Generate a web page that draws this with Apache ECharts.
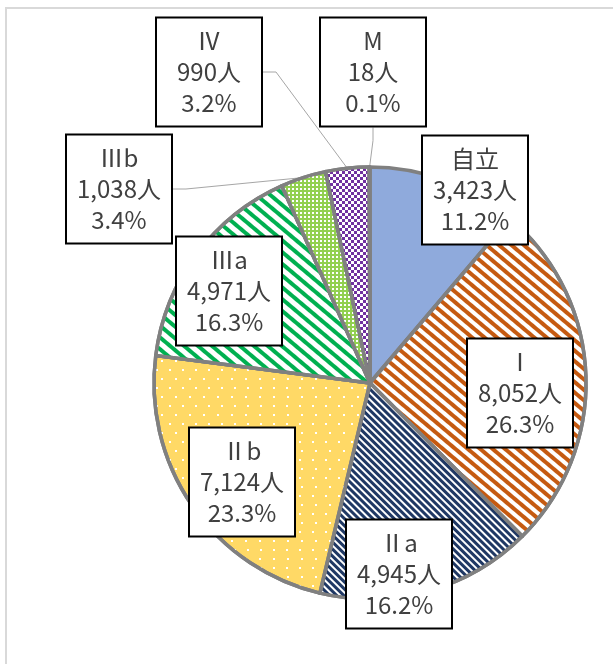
<!DOCTYPE html>
<html>
<head>
<meta charset="utf-8">
<script src="https://cdn.jsdelivr.net/npm/echarts@6/dist/echarts.min.js"></script>
<style>
html,body{margin:0;padding:0;background:#fff;}
#container{width:613px;height:664px;}
</style>
</head>
<body>
<div id="container"></div>
<script>
// 区分ごとの人数
var names = ['自立', 'Ⅰ', 'Ⅱa', 'Ⅱb', 'Ⅲa', 'Ⅲb', 'Ⅳ', 'M'];
var values = [3423, 8052, 4945, 7124, 4971, 1038, 990, 18];

// 塗り（模様）
var fills = ['#8faadc', '#ffffff', '#ffffff', '#ffd966', '#ffffff', '#92d050', '#ffffff', '#a5a5a5'];
var decals = [
    null,
    {color: '#c55a11', dashArrayX: [1, 0], dashArrayY: [3.5, 3.5], rotation: 0.7},
    {color: '#1f3864', dashArrayX: [1, 0], dashArrayY: [2.4, 1.6], rotation: 0.78},
    {color: '#ffffff', dashArrayX: [[2, 11], [0, 6.5, 2, 4.5]], dashArrayY: [2, 6.5]},
    {color: '#00b050', dashArrayX: [1, 0], dashArrayY: [4, 4.3], rotation: 0.7},
    {color: '#ffffff', dashArrayX: [2, 2], dashArrayY: [2, 2]},
    {color: '#7030a0', dashArrayX: [[3, 3], [0, 3, 3, 0]], dashArrayY: [3, 0]},
    null
];
// ラベルの位置（箱の中心）
var labelPos = [[475, 190], [520, 393], [399, 574], [242, 482], [229, 291], [119, 189], [209, 72], [373, 72]];
var outsideLabel = [false, false, false, false, false, true, true, true];

var chart = echarts.init(document.getElementById('container'), null, {renderer: 'canvas'});

var pieData = [];
for (var i = 0; i < names.length; i++) {
    var d = {
        name: names[i],
        value: values[i],
        itemStyle: {color: fills[i]},
        label: {position: outsideLabel[i] ? 'outside' : 'inside'},
        labelLine: {show: outsideLabel[i]}
    };
    if (decals[i]) {
        d.itemStyle.decal = Object.assign({symbol: 'rect', symbolSize: 1, symbolKeepAspect: false}, decals[i]);
    }
    pieData.push(d);
}

var option = {
    backgroundColor: '#ffffff',
    animation: false,
    graphic: [{
        type: 'rect',
        shape: {x: 6, y: 8, width: 700, height: 700},
        style: {fill: 'none', stroke: '#d9d9d9', lineWidth: 2},
        silent: true
    }],
    series: [{
        type: 'pie',
        center: [370, 383],
        radius: 216,
        startAngle: 90,
        clockwise: true,
        percentPrecision: 1,
        avoidLabelOverlap: false,
        emphasis: {disabled: true},
        itemStyle: {borderColor: '#808080', borderWidth: 3.5},
        label: {
            show: true,
            formatter: function (p) {
                return p.name + '\n' + echarts.format.addCommas(p.value) + '人\n' + p.percent.toFixed(1) + '%';
            },
            fontFamily: "'Noto Sans CJK JP', sans-serif",
            fontSize: 24,
            lineHeight: 31,
            color: '#404040',
            align: 'center',
            width: 102,
            padding: [7, 1, 7, 1],
            backgroundColor: '#ffffff',
            borderColor: '#000000',
            borderWidth: 2
        },
        labelLine: {
            length: 10,
            length2: 13,
            lineStyle: {color: '#a6a6a6', width: 1}
        },
        labelLayout: function (params) {
            var p = labelPos[params.dataIndex];
            return {x: p[0], y: p[1], align: 'center', verticalAlign: 'middle'};
        },
        data: pieData
    }]
};
chart.setOption(option);
</script>
</body>
</html>
